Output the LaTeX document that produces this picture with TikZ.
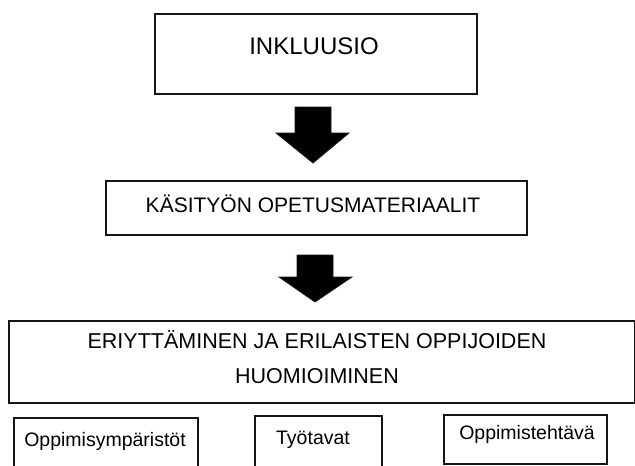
\documentclass[tikz,border=0pt]{standalone}
\usepackage{fontspec}
\setmainfont{Liberation Sans}
\definecolor{boxline}{HTML}{141414}
\definecolor{arrowedge}{HTML}{0E1C2C}
\begin{document}
\begin{tikzpicture}[x=1pt,y=-1pt,
  box/.style={draw=boxline,line width=1.5pt,inner sep=0pt,anchor=north west},
  blockarrow/.style={fill=black,draw=arrowedge,line width=0.8pt,line join=miter},
  lbl/.style={anchor=base,inner sep=0pt,text=black,align=center}]
\useasboundingbox (0,0) rectangle (635,466);
\clip (0,0) rectangle (635,466);

% top level
\node[box,minimum width=322pt,minimum height=80pt] (inkl) at (154,13) {};
\node[lbl,font=\fontsize{24}{28}\selectfont] (tinkl) at (314,54) {INKLUUSIO};

% first block arrow
\draw[blockarrow] (295,107) -- (331,107) -- (331,133) -- (349,133) -- (313,163)
  -- (276,133) -- (295,133) -- cycle;

% teaching materials
\node[box,minimum width=421pt,minimum height=54pt] (mat) at (105,180) {};
\node[lbl,font=\fontsize{21}{25}\selectfont] (tmat) at (313,212) {KÄSITYÖN OPETUSMATERIAALIT};

% second block arrow
\draw[blockarrow] (297,255) -- (333,255) -- (333,277) -- (352,277) -- (315,302)
  -- (279,277) -- (297,277) -- cycle;

% differentiation (base anchor sits on the last line)
\node[box,minimum width=626pt,minimum height=82pt] (eriy) at (8,320) {};
\node[lbl,font=\fontsize{21.5}{35}\selectfont] (teriy) at (317,383)
  {ERIYTTÄMINEN JA ERILAISTEN OPPIJOIDEN\\HUOMIOIMINEN};

% three sub-areas
\node[box,minimum width=184pt,minimum height=60pt] (ymp) at (13,417) {};
\node[lbl,font=\fontsize{19.5}{23}\selectfont] (tymp) at (105,446) {Oppimisympäristöt};

\node[box,minimum width=127pt,minimum height=60pt] (tyo) at (254,415) {};
\node[lbl,font=\fontsize{19.5}{23}\selectfont] (ttyo) at (313,444) {Työtavat};

\node[box,minimum width=163pt,minimum height=49pt] (teht) at (443,414) {};
\node[lbl,font=\fontsize{19.5}{23}\selectfont] (tteht) at (527,439) {Oppimistehtävä};
\end{tikzpicture}
\end{document}
